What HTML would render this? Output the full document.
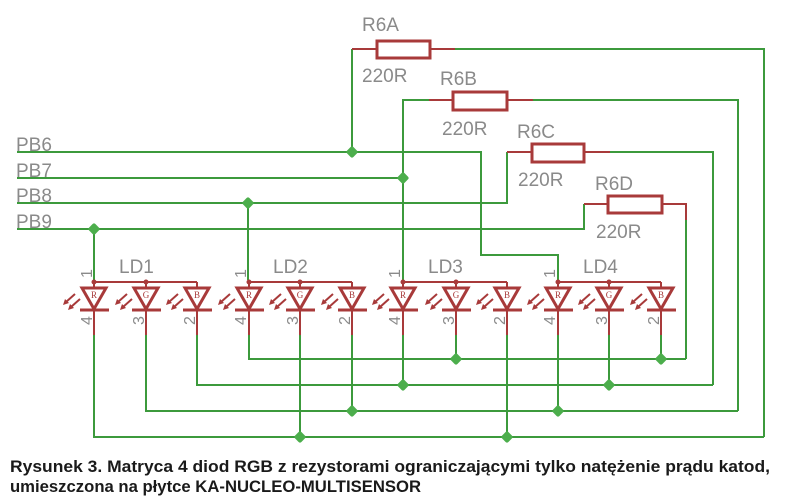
<!DOCTYPE html>
<html><head><meta charset="utf-8"><style>
html,body{margin:0;padding:0;background:#fff;}
svg{display:block;}
.g{stroke:#3c9a3c;stroke-width:2;fill:none;}
.r{stroke:#a83a3a;stroke-width:2;fill:none;}
.lbl{font-family:"Liberation Sans",sans-serif;fill:#8a8a8a;font-size:19px;}
.pin{font-family:"Liberation Sans",sans-serif;fill:#8a8a8a;font-size:16px;}
.cap{font-family:"Liberation Sans","DejaVu Sans",sans-serif;font-weight:bold;fill:#1a1a1a;font-size:17px;}
</style></head><body>
<svg width="786" height="501" viewBox="0 0 786 501" xmlns="http://www.w3.org/2000/svg">
<defs>
<g id="led">
  <path class="r" d="M0,-27 V-21 M0,0 V26"/>
  <path d="M-12,-21 H12 L0,0 Z" fill="none" stroke="#a83a3a" stroke-width="3"/>
  <path d="M-14,1 H15" stroke="#a83a3a" stroke-width="3"/>
  <path class="r" stroke-width="1.5" d="M-19,-15 L-28,-7 M-14,-10 L-23,-2"/>
  <path d="M-31,-4 L-29,-10 L-25,-6 Z M-26,1 L-24,-5 L-20,-1 Z" fill="#a83a3a"/>
</g>
<g id="dot"><rect x="-4.5" y="-4.5" width="9" height="9" rx="2" fill="#4cae4c" transform="rotate(45)"/></g>
</defs>

<path class="g" d="M17,152 H481 V255 H558 V280"/>
<path class="g" stroke-width="1.5" d="M17,178 H403"/>
<path class="g" d="M17,203 H507 V152"/>
<path class="g" stroke-width="1.5" d="M17,229 H584 V204"/>
<text class="lbl" x="16" y="151">PB6</text>
<text class="lbl" x="16" y="177">PB7</text>
<text class="lbl" x="16" y="202">PB8</text>
<text class="lbl" x="16" y="228">PB9</text>

<path class="g" d="M352,152 V49"/><path class="r" d="M352,49 H377 M430,49 H455"/>
<rect x="377" y="41" width="53" height="17" fill="none" stroke="#a83a3a" stroke-width="3"/>
<path class="g" d="M455,49 H764 V437"/>
<text class="lbl" x="362" y="31">R6A</text><text class="lbl" x="362" y="82">220R</text>

<path class="g" d="M403,280 V100 H429"/><path class="r" d="M429,100 H453 M507,100 H533"/>
<rect x="453" y="92" width="54" height="18" fill="none" stroke="#a83a3a" stroke-width="3"/>
<path class="g" d="M533,100 H738 V411"/>
<text class="lbl" x="440" y="85">R6B</text><text class="lbl" x="442" y="135">220R</text>

<path class="r" d="M507,152 H532 M584,152 H610"/>
<rect x="532" y="144" width="52" height="18" fill="none" stroke="#a83a3a" stroke-width="3"/>
<path class="g" d="M610,152 H713 V385"/>
<text class="lbl" x="517" y="138">R6C</text><text class="lbl" x="518" y="186">220R</text>

<path class="r" d="M584,204 H608 M662,204 H686 V220"/>
<rect x="608" y="196" width="54" height="17" fill="none" stroke="#a83a3a" stroke-width="3"/>
<path class="g" d="M686,220 V359"/>
<text class="lbl" x="595" y="190">R6D</text><text class="lbl" x="596" y="238">220R</text>

<path class="g" d="M94,229 V280 M248,203 V280"/>

<path class="g" d="M249,335 V359 H686"/>
<path class="g" d="M197,335 V385 H713"/>
<path class="g" d="M146,335 V411 H738"/>
<path class="g" d="M94,335 V437 H764"/>
<path class="g" d="M300,335 V437 M352,335 V411 M403,335 V385 M456,335 V359 M507,335 V437 M558,335 V411 M609,335 V385 M661,335 V359"/>

<g>
<g transform="translate(94,309)"><use href="#led"/></g>
<g transform="translate(146,309)"><use href="#led"/></g>
<g transform="translate(197,309)"><use href="#led"/></g>
<g transform="translate(249,309)"><use href="#led"/></g>
<g transform="translate(300,309)"><use href="#led"/></g>
<g transform="translate(352,309)"><use href="#led"/></g>
<g transform="translate(403,309)"><use href="#led"/></g>
<g transform="translate(456,309)"><use href="#led"/></g>
<g transform="translate(507,309)"><use href="#led"/></g>
<g transform="translate(558,309)"><use href="#led"/></g>
<g transform="translate(609,309)"><use href="#led"/></g>
<g transform="translate(661,309)"><use href="#led"/></g>
</g>
<path class="r" d="M94,282 H197 M249,282 H352 M403,282 H507 M558,282 H661 M197,282 V288 M352,282 V288 M507,282 V288 M661,282 V288"/>
<g fill="#a83a3a"><circle cx="94" cy="282" r="2.5"/><circle cx="146" cy="282" r="2.5"/><circle cx="249" cy="282" r="2.5"/><circle cx="300" cy="282" r="2.5"/><circle cx="403" cy="282" r="2.5"/><circle cx="456" cy="282" r="2.5"/><circle cx="558" cy="282" r="2.5"/><circle cx="609" cy="282" r="2.5"/></g>
<g font-family="Liberation Serif,serif" font-size="9" fill="#a83a3a" text-anchor="middle">
<text x="94" y="298">R</text><text x="146" y="298">G</text><text x="197" y="298">B</text>
<text x="249" y="298">R</text><text x="300" y="298">G</text><text x="352" y="298">B</text>
<text x="403" y="298">R</text><text x="456" y="298">G</text><text x="507" y="298">B</text>
<text x="558" y="298">R</text><text x="609" y="298">G</text><text x="661" y="298">B</text>
</g>
<text class="lbl" x="119" y="273">LD1</text><text class="lbl" x="273" y="273">LD2</text>
<text class="lbl" x="428" y="273">LD3</text><text class="lbl" x="583" y="273">LD4</text>
<g class="pin">
<text transform="translate(92,278) rotate(-90)">1</text><text transform="translate(246,278) rotate(-90)">1</text>
<text transform="translate(400,278) rotate(-90)">1</text><text transform="translate(555,278) rotate(-90)">1</text>
<text transform="translate(92,325) rotate(-90)">4</text><text transform="translate(144,325) rotate(-90)">3</text><text transform="translate(195,325) rotate(-90)">2</text>
<text transform="translate(246,325) rotate(-90)">4</text><text transform="translate(298,325) rotate(-90)">3</text><text transform="translate(350,325) rotate(-90)">2</text>
<text transform="translate(400,325) rotate(-90)">4</text><text transform="translate(454,325) rotate(-90)">3</text><text transform="translate(505,325) rotate(-90)">2</text>
<text transform="translate(555,325) rotate(-90)">4</text><text transform="translate(607,325) rotate(-90)">3</text><text transform="translate(659,325) rotate(-90)">2</text>
</g>

<use href="#dot" x="352" y="152"/><use href="#dot" x="403" y="178"/><use href="#dot" x="248" y="203"/><use href="#dot" x="94" y="229"/>
<use href="#dot" x="456" y="359"/><use href="#dot" x="661" y="359"/>
<use href="#dot" x="403" y="385"/><use href="#dot" x="609" y="385"/>
<use href="#dot" x="352" y="411"/><use href="#dot" x="558" y="411"/>
<use href="#dot" x="300" y="437"/><use href="#dot" x="507" y="437"/>

<text class="cap" x="10" y="472" textLength="760" lengthAdjust="spacingAndGlyphs">Rysunek 3. Matryca 4 diod RGB z rezystorami ograniczającymi tylko natężenie prądu katod,</text>
<text class="cap" x="10" y="492" textLength="411" lengthAdjust="spacingAndGlyphs">umieszczona na płytce KA-NUCLEO-MULTISENSOR</text>
</svg>
</body></html>
